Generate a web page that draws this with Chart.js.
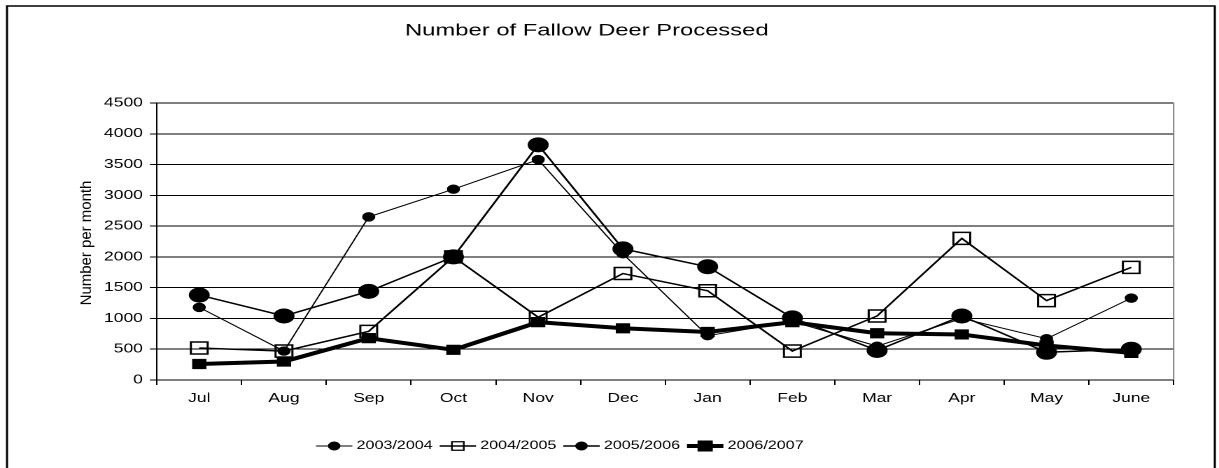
<!DOCTYPE html>
<html>
<head>
<meta charset="utf-8">
<title>Number of Fallow Deer Processed</title>
<script src="https://cdn.jsdelivr.net/npm/chart.js@4.4.1/dist/chart.umd.min.js"></script>
<style>
  html, body { margin: 0; padding: 0; background: #fff; }
  #deer { display: block; width: 1219px; height: 468px; }
</style>
</head>
<body>
<canvas id="deer" width="871" height="468" style="width:1219px;height:468px"></canvas>
<script>
// Months of the processing season (July to June)
const months = ['Jul', 'Aug', 'Sep', 'Oct', 'Nov', 'Dec', 'Jan', 'Feb', 'Mar', 'Apr', 'May', 'June'];

// Deer processed per month, one list per season
const season2003 = [1180, 470, 2650, 3100, 3580, 2050, 720, 950, 550, 1000, 670, 1330];
const season2004 = [520, 470, 790, 2000, 1020, 1730, 1450, 470, 1040, 2300, 1290, 1830];
const season2005 = [1380, 1040, 1440, 2000, 3820, 2130, 1840, 1010, 480, 1040, 450, 500];
const season2006 = [260, 300, 680, 490, 940, 840, 780, 940, 760, 740, 560, 440];

const seasonNames = ['2003/2004', '2004/2005', '2005/2006', '2006/2007'];

// Value axis range
const yMin = 0;
const yMax = 4500;
const yStep = 500;

const FONT = "'Liberation Sans', Arial, Helvetica, sans-serif";

// Marker / line look of each season, used by the chart and by the legend
const looks = [
  { width: 1,   style: 'circle', radius: 4.2, fill: '#000', legendRadius: 4 },
  { width: 1.5, style: 'rect',   radius: 8.5, fill: 'rgba(0,0,0,0)', legendRadius: 6 },
  { width: 1.5, style: 'circle', radius: 7,   fill: '#000', legendRadius: 4 },
  { width: 4,   style: 'rect',   radius: 6.5, fill: '#000', legendRadius: 7 }
];

const seriesValues = [season2003, season2004, season2005, season2006];

const datasets = seriesValues.map((values, i) => ({
  label: seasonNames[i],
  data: values,
  borderColor: '#000',
  borderWidth: looks[i].width,
  pointStyle: looks[i].style,
  pointRadius: looks[i].radius,
  pointBackgroundColor: looks[i].fill,
  pointBorderColor: '#000',
  pointBorderWidth: i === 1 ? 1.5 : 1,
  tension: 0,
  fill: false,
  order: 4 - i
}));

function drawMarker(ctx, look, x, y) {
  ctx.save();
  ctx.strokeStyle = '#000';
  ctx.fillStyle = look.fill;
  ctx.lineWidth = look.style === 'rect' && look.fill !== '#000' ? 1.2 : 1;
  const r = look.legendRadius;
  ctx.beginPath();
  if (look.style === 'circle') {
    ctx.arc(x, y, r, 0, Math.PI * 2);
  } else {
    ctx.rect(x - r * Math.SQRT1_2, y - r * Math.SQRT1_2, r * Math.SQRT2, r * Math.SQRT2);
  }
  ctx.fill();
  ctx.stroke();
  ctx.restore();
}

const chartDecor = {
  id: 'chartDecor',
  beforeDraw(chart) {
    const { ctx, width, height } = chart;
    ctx.save();
    ctx.fillStyle = '#fff';
    ctx.fillRect(0, 0, width, height);
    // outer frame around the whole chart
    ctx.strokeStyle = '#000';
    ctx.lineWidth = 1.5;
    ctx.strokeRect(5, 6, 863, height + 10);
    ctx.restore();
  },
  beforeDatasetsDraw(chart) {
    const { ctx, chartArea } = chart;
    ctx.save();
    ctx.strokeStyle = '#7f7f7f';
    ctx.lineWidth = 1;
    ctx.beginPath();
    ctx.moveTo(chartArea.right, chartArea.top);
    ctx.lineTo(chartArea.right, chartArea.bottom);
    ctx.stroke();
    ctx.restore();
  },
  afterDraw(chart) {
    const { ctx } = chart;

    // value axis title, written bottom to top
    ctx.save();
    ctx.translate(62, 243);
    ctx.rotate(-Math.PI / 2);
    ctx.scale(1.36, 1);
    ctx.fillStyle = '#000';
    ctx.font = '11px ' + FONT;
    ctx.textAlign = 'center';
    ctx.textBaseline = 'middle';
    ctx.fillText('Number per month', 0, 0);
    ctx.restore();

    // legend below the axis: line + marker + season name
    ctx.save();
    ctx.font = '11.5px ' + FONT;
    ctx.textBaseline = 'middle';
    ctx.fillStyle = '#000';
    const symbolW = 26, textGap = 3, itemGap = 5, legendY = 446;
    const items = chart.data.datasets.map((ds, i) => ({
      label: ds.label,
      look: looks[i],
      textW: ctx.measureText(ds.label).width
    }));
    const total = items.reduce((s, it) => s + symbolW + textGap + it.textW, 0) + itemGap * (items.length - 1);
    let x = 400 - total / 2;
    items.forEach(it => {
      ctx.strokeStyle = '#000';
      ctx.lineWidth = it.look.width;
      ctx.beginPath();
      ctx.moveTo(x, legendY);
      ctx.lineTo(x + symbolW, legendY);
      ctx.stroke();
      drawMarker(ctx, it.look, x + symbolW / 2, legendY);
      ctx.fillText(it.label, x + symbolW + textGap, legendY);
      x += symbolW + textGap + it.textW + itemGap;
    });
    ctx.restore();
  }
};

new Chart(document.getElementById('deer'), {
  type: 'line',
  data: { labels: months, datasets },
  options: {
    responsive: false,
    devicePixelRatio: 2,
    animation: false,
    events: [],
    layout: { padding: { left: 0, right: 32.4, top: 0, bottom: 48 } },
    plugins: {
      legend: { display: false },
      tooltip: { enabled: false },
      title: {
        display: true,
        text: 'Number of Fallow Deer Processed',
        color: '#000',
        font: { family: FONT, size: 17, weight: 'normal', lineHeight: 1.2 },
        padding: { top: 20.8, bottom: 61.8 }
      }
    },
    scales: {
      x: {
        offset: true,
        grid: {
          offset: true,
          drawOnChartArea: false,
          drawTicks: true,
          tickLength: 5,
          color: '#000',
          lineWidth: 1
        },
        border: { display: true, color: '#000', width: 1 },
        ticks: {
          color: '#000',
          font: { family: FONT, size: 12.5 },
          padding: 6,
          maxRotation: 0,
          autoSkip: false
        },
        afterFit(scale) { scale.height = 40; }
      },
      y: {
        min: yMin,
        max: yMax,
        grid: {
          color: '#000',
          lineWidth: 1,
          tickLength: 5,
          tickColor: '#000'
        },
        border: { display: true, color: '#000', width: 1 },
        ticks: {
          stepSize: yStep,
          color: '#000',
          font: { family: FONT, size: 12.5 },
          padding: 5,
          callback: value => String(value)
        },
        afterFit(scale) { scale.width = 112.1; }
      }
    }
  },
  plugins: [chartDecor]
});
</script>
</body>
</html>
